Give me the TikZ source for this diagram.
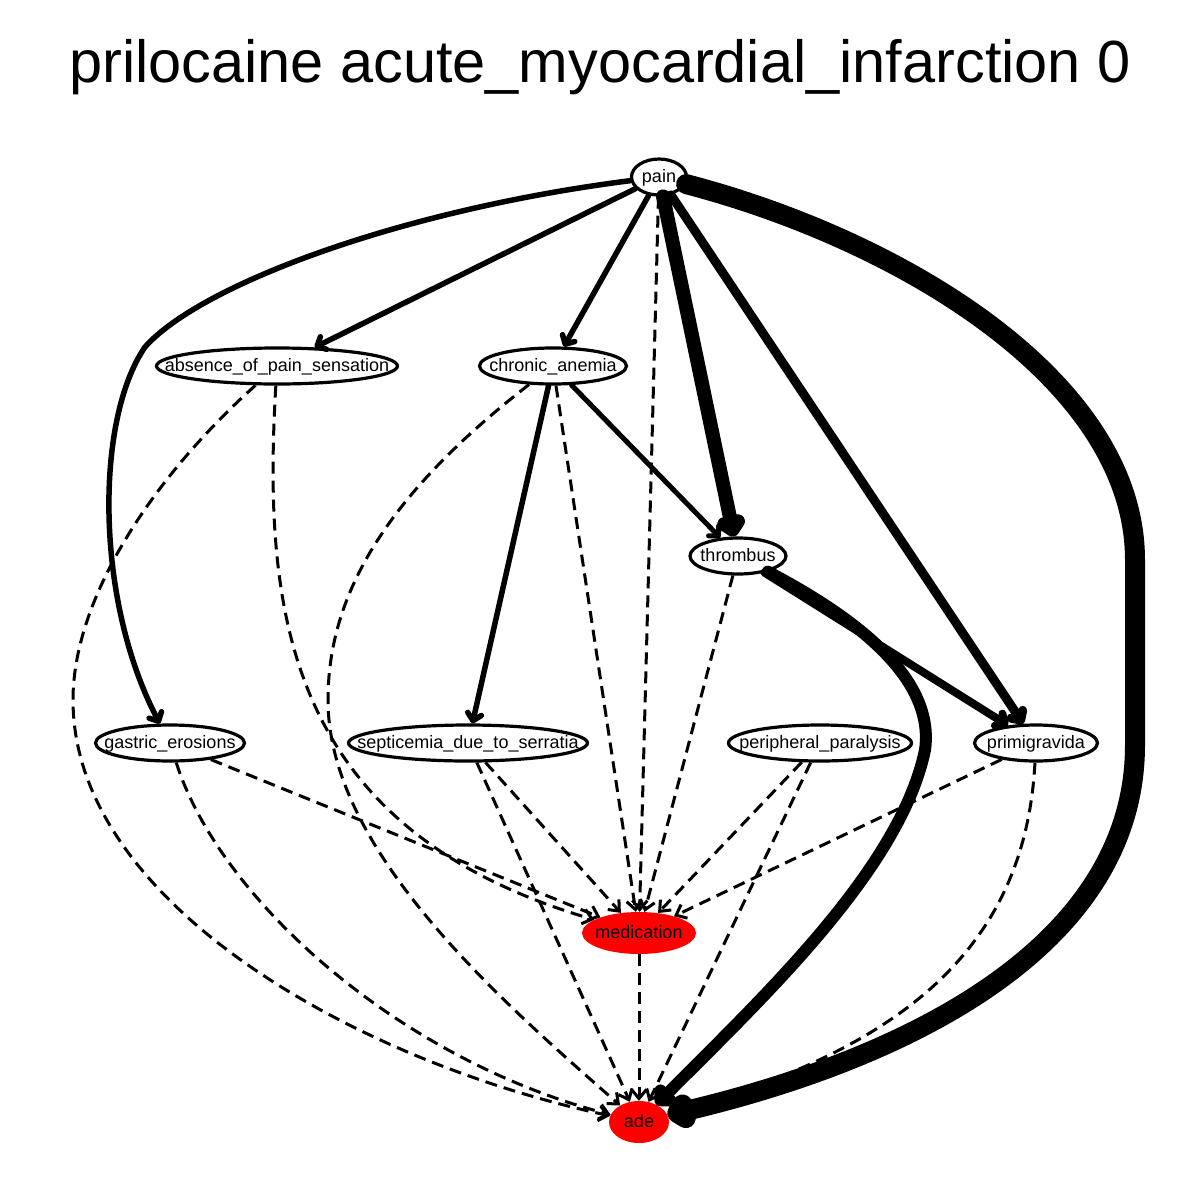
\documentclass[tikz,border=0pt]{standalone}
\usepackage{fontspec}
\setmainfont{Liberation Sans}
\usetikzlibrary{shapes.geometric,arrows.meta}

\begin{document}
\begin{tikzpicture}[
		x=1pt, y=-1pt,
		font=\fontsize{18}{20}\selectfont
	]
	\tikzset{
		mynode/.style = {ellipse, draw=black, line width=3.2pt, fill=white, inner sep=0pt, minimum height=36pt},
		mynodeo/.style = {ellipse, fill=red, inner sep=0pt, minimum height=42pt},
		mytext/.style = {inner sep=0pt, text height=10pt, text depth=0pt},
		edges/.style = {-{Straight Barb[length=7pt,width=14pt,round]}, line cap=round, line join=round},
		edged/.style = {-{Straight Barb[length=9pt,width=15pt]}, line width=3pt, dash pattern=on 12pt off 7pt},
	}
	\useasboundingbox (0,0) rectangle (1200,1200);
	\node[anchor=base, font=\fontsize{59.5}{60}\selectfont] at (600,82) (title) {prilocaine acute\_myocardial\_infarction 0};
	%
	\node[mynode, minimum width=55pt, label={[mytext]center:pain}] at (659,177) (pain) {};
	\node[mynode, minimum width=241pt, label={[mytext]center:absence\_of\_pain\_sensation}] at (277,366) (absence) {};
	\node[mynode, minimum width=147pt, label={[mytext]center:chronic\_anemia}] at (553,366) (chronic) {};
	\node[mynode, minimum width=96pt, label={[mytext]center:thrombus}] at (738,556) (thrombus) {};
	\node[mynode, minimum width=149pt, label={[mytext]center:gastric\_erosions}] at (170,743) (gastric) {};
	\node[mynode, minimum width=239pt, label={[mytext]center:septicemia\_due\_to\_serratia}] at (468,743) (septicemia) {};
	\node[mynode, minimum width=183pt, label={[mytext]center:peripheral\_paralysis}] at (820,743) (peripheral) {};
	\node[mynode, minimum width=123pt, label={[mytext]center:primigravida}] at (1036,743) (primigravida) {};
	\node[mynodeo, minimum width=114pt, label={[mytext]center:medication}] at (639,933) (medication) {};
	\node[mynodeo, minimum width=60pt, label={[mytext]center:ade}] at (639,1122) (ade) {};
	%
	\draw[edged] (pain) -- (medication);
	\draw[edged] (chronic) -- (medication);
	\draw[edged] (chronic) .. controls (380,500) and (328,600) .. (328,700) .. controls (328,850) and (500,1000) .. (ade);
	\draw[edged] (absence) .. controls (150,480) and (73,600) .. (73,700) .. controls (73,900) and (350,1060) .. (ade);
	\draw[edged] (absence) .. controls (262,620) and (290,830) .. (medication);
	\draw[edged] (thrombus) -- (medication);
	%
	\draw[edged] (gastric) -- (medication);
	\draw[edged] (gastric) .. controls (220,900) and (400,1060) .. (ade);
	\draw[edged] (septicemia) -- (medication);
	\draw[edged] (septicemia) -- (ade);
	\draw[edged] (peripheral) -- (medication);
	\draw[edged] (peripheral) -- (ade);
	\draw[edged] (primigravida) -- (medication);
	\draw[edged] (primigravida) .. controls (1025,950) and (900,1050) .. (ade);
	\draw[edged] (medication) -- (ade);
	%
	\draw[edges, line width=5.5pt] (pain) .. controls (400,210) and (200,285) .. (145,347) .. controls (95,420) and (95,600) .. (gastric);
	\draw[edges, line width=5.5pt] (pain) -- (absence);
	\draw[edges, line width=5.5pt] (pain) -- (chronic);
	\draw[edges, line width=14pt] (pain) -- (thrombus);
	\draw[edges, line width=9pt] (pain) -- (primigravida);
	\draw[edges, line width=20pt] (pain) .. controls (900,240) and (1135,380) .. (1135,560) -- (1135,745) .. controls (1135,950) and (900,1060) .. (ade);
	%
	\draw[edges, line width=5.5pt] (chronic) -- (septicemia);
	\draw[edges, line width=5pt] (chronic) -- (thrombus);
	\draw[edges, line width=12pt] (thrombus) .. controls (860,620) and (935,680) .. (925,750) .. controls (900,870) and (760,1000) .. (ade);
	\draw[edges, line width=8pt] (thrombus) -- (primigravida);
\end{tikzpicture}
\end{document}
